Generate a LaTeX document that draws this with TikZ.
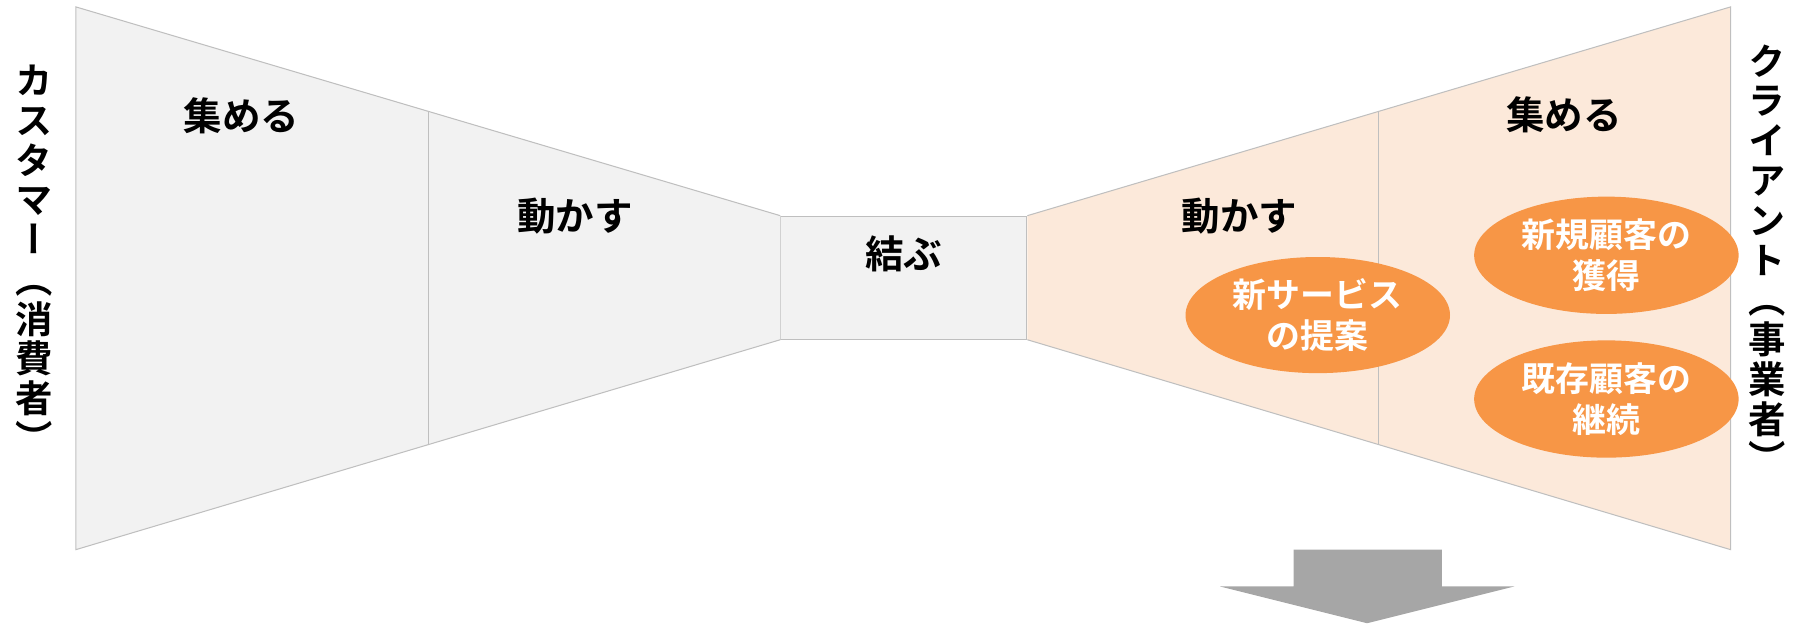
\documentclass[tikz,border=0pt]{standalone}
\usepackage{fontspec}
\setmainfont{Noto Sans CJK JP}[BoldFont={* Bold}]
\newfontfamily\vjp{Noto Sans CJK JP}[BoldFont={* Bold},RawFeature=+vert]
\definecolor{grayfill}{HTML}{F2F2F2}
\definecolor{grayline}{HTML}{BFBFBF}
\definecolor{orangefill}{HTML}{FCE9DA}
\definecolor{orangeell}{HTML}{F79646}
\definecolor{arrowgray}{HTML}{A6A6A6}
\usetikzlibrary{shapes.geometric}
\tikzset{
  funnel/.style={draw=grayline, line width=0.9pt},
  divider/.style={draw=grayline, line width=0.9pt},
  lbl/.style={font=\bfseries\fontsize{33.5}{35}\selectfont, inner sep=0pt},
  ell/.style={ellipse, fill=orangeell, draw=none, minimum width=230pt, minimum height=101pt, inner sep=0pt,
    text=white, align=center, font=\bfseries\fontsize{29.5}{36}\selectfont},
  vtext/.style={align=center, inner sep=0pt, font=\vjp\bfseries\fontsize{32.5}{34.6}\selectfont}
}
\begin{document}
\begin{tikzpicture}[x=1pt,y=-1pt]
\useasboundingbox (0,0) rectangle (1568,544);
% corners
\coordinate (LT) at (66,6);
\coordinate (LB) at (66,478);
\coordinate (RT) at (1505,6);
\coordinate (RB) at (1505,478);
\node[draw=grayline, fill=grayfill, line width=0.9pt, minimum width=214pt, minimum height=107pt, inner sep=0pt] (mid) at (786,241.5) {};
\fill[grayfill] (LT) -- (mid.north west) -- (mid.south west) -- (LB) -- cycle;
\draw[funnel] (mid.north west) -- (LT) -- (LB) -- (mid.south west);
\fill[orangefill] (RT) -- (mid.north east) -- (mid.south east) -- (RB) -- cycle;
\draw[funnel] (mid.north east) -- (RT) -- (RB) -- (mid.south east);
% dividers
\coordinate (LDt) at (373,97.2);
\coordinate (LDb) at (373,386.4);
\coordinate (RDt) at (1199,97.2);
\coordinate (RDb) at (1199,386.4);
\draw[divider] (LDt) -- (LDb);
\draw[divider] (RDt) -- (RDb);
% labels
\node[lbl] (l1) at (210,101) {集める};
\node[lbl] (l2) at (500,188) {動かす};
\node[lbl] (m1) at (786,221) {結ぶ};
\node[lbl] (r2) at (1078,188) {動かす};
\node[lbl] (r1) at (1360,100) {集める};
% ellipses
\node[ell] (e1) at (1146,274) {新サービス\\の提案};
\node[ell, minimum height=102pt] (e2) at (1397,222) {新規顧客の\\獲得};
\node[ell, minimum height=102pt] (e3) at (1397,347) {既存顧客の\\継続};
% vertical texts
\node[vtext] (vl) at (30,225) {カ\\ス\\タ\\マ\\ー\\（\\消\\費\\者\\）};
\node[vtext] (vr) at (1537,225) {ク\\ラ\\イ\\ア\\ン\\ト\\（\\事\\業\\者\\）};
% arrow
\fill[arrowgray] (1125,478) -- (1254,478) -- (1254,510) -- (1317,510) -- (1189,542) -- (1061,510) -- (1125,510) -- cycle;
\end{tikzpicture}
\end{document}
